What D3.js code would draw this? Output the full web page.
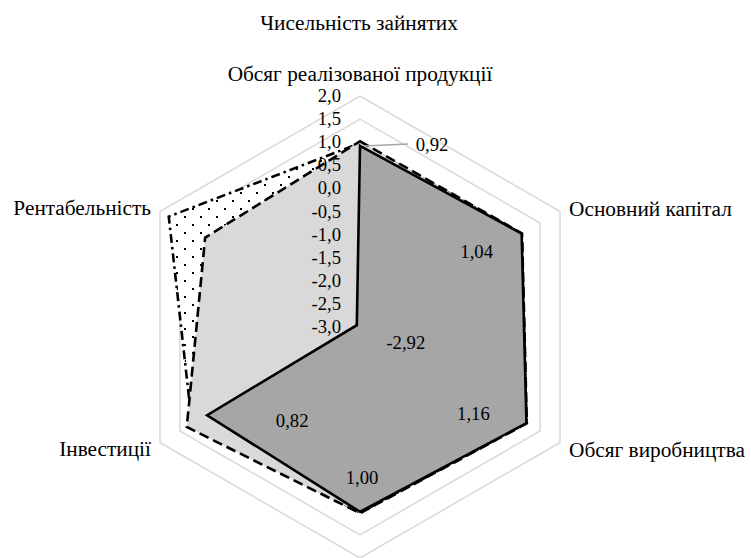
<!DOCTYPE html>
<html>
<head>
<meta charset="utf-8">
<script src="https://cdn.jsdelivr.net/npm/d3@7"></script>
<style>
  html, body { margin: 0; padding: 0; background: #fff; }
  svg { display: block; }
  text { font-family: "Liberation Serif", "Times New Roman", serif; font-size: 18.7px; fill: #000; }
  text.cat { font-size: 21.3px; }
</style>
</head>
<body>
<svg id="chart" width="751" height="558"></svg>
<script>
// ---- data ----
const title = "Чисельність зайнятих";
const categories = [
  "Обсяг реалізованої продукції",
  "Основний капітал",
  "Обсяг виробництва",
  "",
  "Інвестиції",
  "Рентабельність"
];
const ticks = [-3.0, -2.5, -2.0, -1.5, -1.0, -0.5, 0.0, 0.5, 1.0, 1.5, 2.0];
// series drawn in order (first at bottom)
const seriesDotted = [0.98, 1.04, 1.16, 1.02, 1.20, 1.78];
const seriesLight  = [1.02, 1.05, 1.17, 1.03, 1.33, 0.87];
const seriesDark   = [0.92, 1.04, 1.16, 1.00, 0.82, -2.92];
const darkLabels   = ["0,92", "1,04", "1,16", "1,00", "0,82", "-2,92"];

// ---- layout / style ----
const W = 751, H = 558;
const cx = 360, cy = 327, R = 231;
const labelOffsets = [[72, -1], [-45, 18], [-53, -9], [2, -34], [85, 6], [49, 18]];
const catPos = [
  {dx: 0, dy: -15, anchor: "middle"},
  {dx: 9, dy: 4, anchor: "start"},
  {dx: 9, dy: 14, anchor: "start"},
  {dx: 0, dy: 25, anchor: "middle"},
  {dx: -9, dy: 13, anchor: "end"},
  {dx: -9, dy: 3, anchor: "end"}
];

const svg = d3.select("#chart");
const r = d3.scaleLinear().domain([-3, 2]).range([0, R]);
const n = categories.length;
const angle = d3.scaleLinear().domain([0, n]).range([0, 2 * Math.PI]);
const pt = (i, v) => [cx + r(v) * Math.sin(angle(i)), cy - r(v) * Math.cos(angle(i))];

// pattern for dotted fill
const defs = svg.append("defs");
const pat = defs.append("pattern").attr("id", "dots").attr("patternUnits", "userSpaceOnUse")
  .attr("width", 16).attr("height", 16);
pat.append("rect").attr("width", 16).attr("height", 16).attr("fill", "#fff");
pat.append("rect").attr("x", 0).attr("y", 0).attr("width", 2).attr("height", 2).attr("fill", "#000");
pat.append("rect").attr("x", 8).attr("y", 8).attr("width", 2).attr("height", 2).attr("fill", "#000");

// gridlines
const grid = svg.append("g");
ticks.slice(1).forEach(t => {
  grid.append("polygon")
    .attr("points", d3.range(n).map(i => pt(i, t).join(",")).join(" "))
    .attr("fill", "none").attr("stroke", "#d9d9d9").attr("stroke-width", 1.5);
});

const line = d3.line().curve(d3.curveLinearClosed);
function drawSeries(vals, fill, dash) {
  svg.append("path")
    .attr("d", line(vals.map((v, i) => pt(i, v))))
    .attr("fill", fill)
    .attr("stroke", "#000")
    .attr("stroke-width", 2.6)
    .attr("stroke-linejoin", "miter")
    .attr("stroke-dasharray", dash);
}
drawSeries(seriesDotted, "url(#dots)", "9,4,2.5,4");
drawSeries(seriesLight, "#d9d9d9", "10,5");
drawSeries(seriesDark, "#a6a6a6", null);

// tick labels
const fmt = v => d3.format(".1f")(v).replace(".", ",").replace("−", "-");
svg.append("g").selectAll("text").data(ticks).join("text")
  .attr("x", cx - 19)
  .attr("y", d => cy - r(d) + 6)
  .attr("text-anchor", "end")
  .text(d => fmt(d));

// data labels for dark series
const lg = svg.append("g");
seriesDark.forEach((v, i) => {
  const [px, py] = pt(i, v);
  const [dx, dy] = labelOffsets[i];
  if (i === 0) {
    lg.append("line").attr("x1", px + 4).attr("y1", py).attr("x2", px + 48).attr("y2", py - 2)
      .attr("stroke", "#a6a6a6").attr("stroke-width", 1.5);
  }
  lg.append("text")
    .attr("x", px + dx).attr("y", py + dy + 6)
    .attr("text-anchor", "middle")
    .text(darkLabels[i]);
});

// category labels
categories.forEach((c, i) => {
  if (!c) return;
  const [px, py] = pt(i, 2);
  svg.append("text").attr("class", "cat")
    .attr("x", px + catPos[i].dx).attr("y", py + catPos[i].dy)
    .attr("text-anchor", catPos[i].anchor)
    .text(c);
});

// title
svg.append("text").attr("class", "cat").attr("x", cx - 1).attr("y", 30).attr("text-anchor", "middle").text(title);
</script>
</body>
</html>
